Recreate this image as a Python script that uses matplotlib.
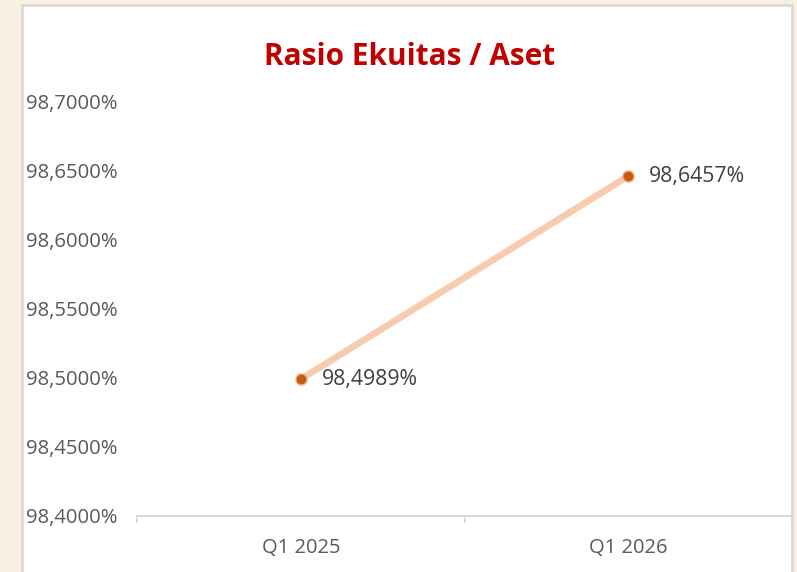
import matplotlib
matplotlib.use("Agg")
import matplotlib.pyplot as plt
from matplotlib.patches import Rectangle

# data
periods = ["Q1 2025", "Q1 2026"]
ratio = [98.4989, 98.6457]
y_ticks = [98.40, 98.45, 98.50, 98.55, 98.60, 98.65, 98.70]


def pct(v):
    return f"{v:.4f}".replace(".", ",") + "%"


plt.rcParams["font.family"] = ["Open Sans", "DejaVu Sans"]

W, H = 797, 572
fig = plt.figure(figsize=(W / 100, H / 100), dpi=100)
fig.patch.set_facecolor("#f8f0e3")

# white chart panel with light grey frame
panel = Rectangle((22 / W, -0.05), (792 - 22) / W, 1.05 - 5 / H,
                  transform=fig.transFigure, facecolor="white",
                  edgecolor="#d9d9d9", linewidth=2, zorder=-10)
fig.patches.append(panel)

ax = fig.add_axes([137 / W, 1 - 516 / H, (792 - 137) / W, (516 - 101) / H])
ax.set_facecolor("none")

x = list(range(len(periods)))
ax.plot(x, ratio, color="#f8cbad", linewidth=4.8, solid_capstyle="round", zorder=2)
ax.plot(x, ratio, linestyle="none", marker="o", markersize=8,
        markerfacecolor="#c55a11", markeredgecolor="#f4b183", markeredgewidth=1, zorder=3)

for xi, v in zip(x, ratio):
    ax.annotate(pct(v), (xi, v), xytext=(15, 0), textcoords="offset points",
                ha="left", va="center", fontsize=15.3, color="#404040")

ax.set_xlim(-0.5, len(periods) - 0.5)
ax.set_ylim(y_ticks[0], y_ticks[-1])

ax.set_xticks(x)
ax.set_xticklabels(periods)
ax.set_xticks([i - 0.5 for i in range(len(periods) + 1)], minor=True)
ax.tick_params(axis="x", which="major", length=0, pad=16, labelsize=14.5, labelcolor="#595959")
ax.tick_params(axis="x", which="minor", length=5, color="#d9d9d9", width=1.3)

ax.set_yticks(y_ticks)
ax.set_yticklabels([pct(v) for v in y_ticks])
ax.tick_params(axis="y", length=0, pad=80, labelsize=14.6, labelcolor="#595959")
for lab in ax.get_yticklabels():
    lab.set_horizontalalignment("left")

for side in ["left", "right", "top"]:
    ax.spines[side].set_visible(False)
ax.spines["bottom"].set_color("#d9d9d9")
ax.spines["bottom"].set_linewidth(1.5)

fig.text(410 / W, 1 - 57 / H, "Rasio Ekuitas / Aset", ha="center", va="center",
         fontsize=21.4, fontweight="bold", color="#c00000")

fig.savefig("out.png", dpi=100)
